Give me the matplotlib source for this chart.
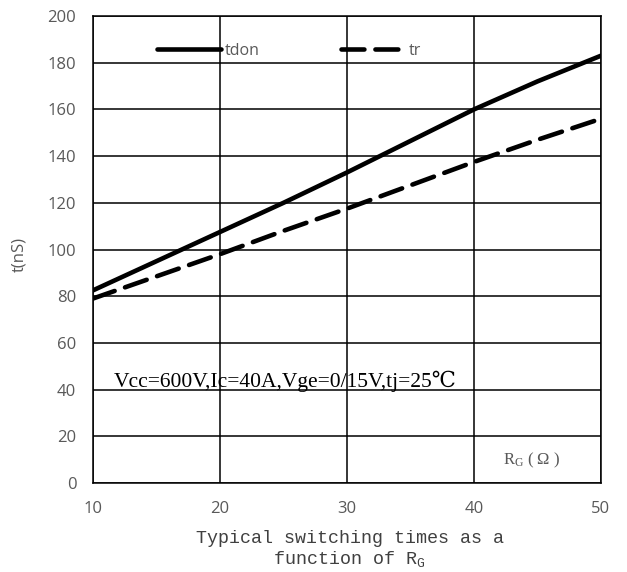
import matplotlib.pyplot as plt

rg = [10, 15, 20, 25, 30, 35, 40, 45, 50]
tdon = [82.5, 95, 107.5, 120, 133, 146.5, 160, 172, 183]
tr = [79, 88.5, 98, 108, 117.5, 127.5, 137.5, 147, 156]

x_ticks = [10, 20, 30, 40, 50]
y_ticks = [0, 20, 40, 60, 80, 100, 120, 140, 160, 180, 200]

gray = '#595959'
tick_font = ['Open Sans', 'DejaVu Sans']
serif = ['Liberation Serif', 'DejaVu Serif']

fig = plt.figure(figsize=(6.27, 5.72), dpi=100)
ax = fig.add_axes([93 / 627, 1 - 483 / 572, 508 / 627, 467 / 572])

ax.plot(rg, tdon, color='black', lw=3.3, solid_capstyle='round', label='tdon')
ax.plot(rg, tr, color='black', lw=3.3, dashes=(5, 2.4), dash_capstyle='round', label='tr')

ax.set_xlim(10, 50)
ax.set_ylim(0, 200)
ax.set_xticks(x_ticks)
ax.set_yticks(y_ticks)
ax.grid(True, color='black', lw=1.1)
for s in ax.spines.values():
    s.set_color('black')
    s.set_linewidth(1.1)
ax.tick_params(length=0, labelsize=12, labelcolor=gray)
ax.tick_params(axis='y', pad=12)
ax.tick_params(axis='x', pad=13)
for lab in ax.get_xticklabels() + ax.get_yticklabels():
    lab.set_family(tick_font)

ax.text(-0.145, 0.49, 't(nS)', transform=ax.transAxes, rotation=90,
        ha='center', va='center', fontsize=12, color=gray, family=tick_font)

ax.text(11.6, 43.5, 'Vcc=600V,Ic=40A,Vge=0/15V,tj=25\u2103', fontsize=15.5,
        family=serif, color='black', va='center')
ax.text(42.3, 9.5, r'$\mathregular{R_G}$' + ' ( \u03a9 )', fontsize=12,
        family=serif, color=gray, va='center')

ax.set_xlabel('Typical switching times as a\nfunction of ' + r'$\mathregular{R_G}$',
              fontsize=13.2, family=['Liberation Mono', 'DejaVu Sans Mono'],
              color='#404040', linespacing=1.15)
ax.xaxis.set_label_coords(0.505, -0.1, transform=ax.transAxes)
ax.xaxis.label.set_va('top')

ax.legend(loc='center left', bbox_to_anchor=((157 - 93) / 508, (483 - 51) / 467),
          ncol=2, frameon=False, handlelength=4, handletextpad=0.25,
          columnspacing=5.1, borderpad=0, borderaxespad=0,
          labelcolor=gray, prop={'family': tick_font, 'size': 11.5})

fig.savefig('out.png', dpi=100)
